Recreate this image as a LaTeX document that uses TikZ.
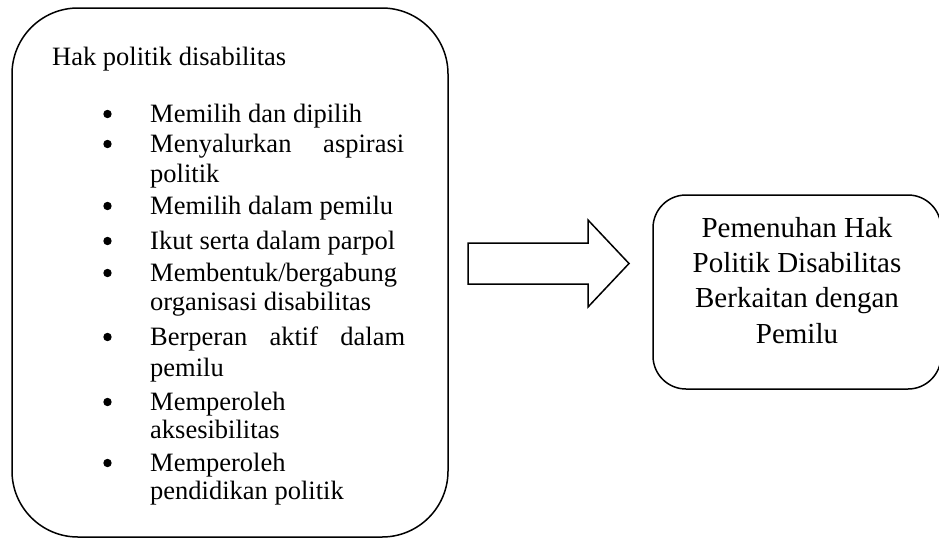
\documentclass[tikz,border=0pt]{standalone}
\usepackage{fontspec}
\setmainfont{Liberation Serif}
\begin{document}
\begin{tikzpicture}[x=1pt,y=-1pt,
  box/.style={draw=black, line width=1.5pt, fill=white},
  itemtext/.style={anchor=base west, inner sep=0pt, font=\fontsize{26.5}{30}\selectfont},
  righttext/.style={anchor=base, inner sep=0pt, font=\fontsize{29}{34}\selectfont},
  bulletdot/.style={fill=black}]
\useasboundingbox (0,0) rectangle (939,538);
% left rounded box
\draw[box, rounded corners=66pt] (12,8) rectangle (448,537);
% right rounded box
\draw[box, rounded corners=33pt] (653,195) rectangle (941,389);
% block arrow
\draw[line width=1.5pt, line join=miter] (468,243) -- (588,243) -- (588,220) -- (629,263.5)
  -- (588,307) -- (588,284) -- (468,284) -- cycle;
% title
\node[itemtext] (title) at (52,65) {Hak politik disabilitas};
% bullets
\foreach \yy in {114,144,206,241,273,337,402,463}
  \fill[bulletdot] (107.5,\yy) circle (4.2);
% list lines
\node[itemtext] (l1) at (150,122) {Memilih dan dipilih};
\node[itemtext] (l2) at (150,152) {\hbox to 254pt{Menyalurkan\hfill aspirasi}};
\node[itemtext] (l3) at (150,182) {politik};
\node[itemtext] (l4) at (150,214) {Memilih dalam pemilu};
\node[itemtext] (l5) at (150,249) {Ikut serta dalam parpol};
\node[itemtext] (l6) at (150,281) {Membentuk/bergabung};
\node[itemtext] (l7) at (150,310) {organisasi disabilitas};
\node[itemtext] (l8) at (150,345) {\hbox to 255pt{Berperan\hfill aktif\hfill dalam}};
\node[itemtext] (l9) at (150,376) {pemilu};
\node[itemtext] (l10) at (150,410) {Memperoleh};
\node[itemtext] (l11) at (150,438) {aksesibilitas};
\node[itemtext] (l12) at (150,471) {Memperoleh};
\begin{scope}
\clip (140,475) rectangle (440,505);
\node[itemtext] (l13) at (150,499) {pendidikan politik};
\end{scope}
% right text
\node[righttext] (r1) at (797,237) {Pemenuhan Hak};
\node[righttext] (r2) at (797,272) {Politik Disabilitas};
\node[righttext] (r3) at (797,307) {Berkaitan dengan};
\node[righttext] (r4) at (797,343) {Pemilu};
\end{tikzpicture}
\end{document}
